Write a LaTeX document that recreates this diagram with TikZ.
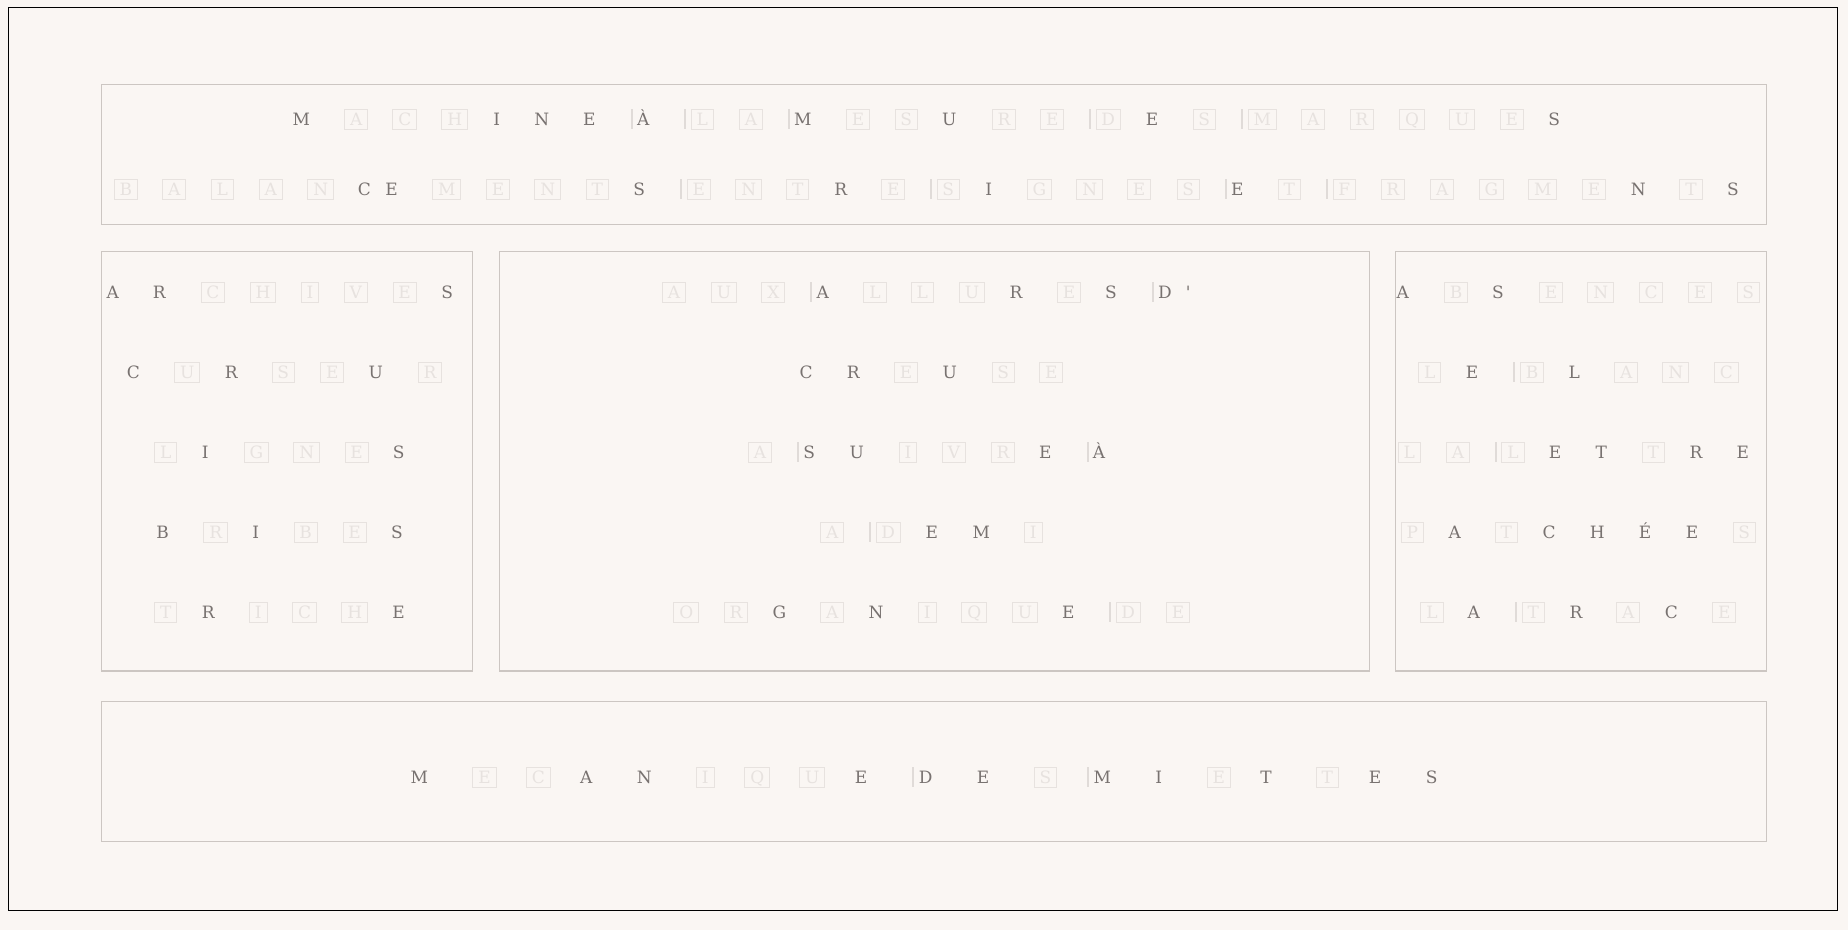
\documentclass[tikz,border=0pt]{standalone}
\usepackage{fontspec}
\setmainfont{DejaVu Serif}

\definecolor{paper}{RGB}{250,246,243}
\definecolor{rim}{RGB}{204,198,194}
\definecolor{ink}{RGB}{120,114,112}
\definecolor{ghost}{RGB}{231,226,223}
\definecolor{notch}{RGB}{224,219,216}

% one row of letters: name, y, list of x/letter/style
\newcommand\letterrow[3]{%
  \foreach \x/\l/\k [count=\i] in {#3}
    \node [\k] (#1-\i) at (\x, #2) {\l};}

\begin{document}
\begin{tikzpicture}[x=0.5pt, y=-0.5pt,
    glyph/.style={font=\fontsize{8.5}{10}\selectfont, text height=6.2pt, text depth=0pt,
      minimum height=10pt, inner xsep=2.7pt, inner ysep=0pt},
    seen/.style={glyph, text=ink},
    veil/.style={glyph, draw=ghost, line width=0.5pt, text=ghost},
    wbar/.style={fill=notch, minimum width=1pt, minimum height=10pt, inner sep=0pt},
    panel/.style={draw=rim, line width=0.6pt}]
        \fill[paper] (0, 0) rectangle (1848, 930);
        \draw[black, line width=0.5pt] (8, 8) rectangle (1837.5, 910);

        \draw[panel] (101.7, 84.3) rectangle (1766.7, 224.3);
        \draw[panel] (101.7, 251.7) rectangle (472.3, 671);
        \draw[panel] (499.7, 251.7) rectangle (1369.3, 671);
        \draw[panel] (1395.3, 251.7) rectangle (1766.7, 671);
        \draw[panel] (101.7, 701.3) rectangle (1766.7, 841.5);

        % top panel
        \letterrow{machine}{119.3}{301.3/M/seen, 356.3/A/veil, 404.8/C/veil, 454.8/H/veil,
          496.7/I/seen, 541.7/N/seen, 589.3/E/seen, 632/{}/wbar, 643.3/À/seen,
          685/{}/wbar, 702.3/L/veil, 751/A/veil, 788.7/{}/wbar, 802.7/M/seen,
          858/E/veil, 906.3/S/veil, 949.3/U/seen, 1004/R/veil, 1052.3/E/veil,
          1090/{}/wbar, 1108.3/D/veil, 1152/E/seen, 1204.3/S/veil, 1241.7/{}/wbar,
          1262.3/M/veil, 1313.3/A/veil, 1361.8/R/veil, 1412/Q/veil, 1462.3/U/veil,
          1511.8/E/veil, 1554.3/S/seen}
        \letterrow{balance}{189.5}{125.8/B/veil, 174.3/A/veil, 222.3/L/veil, 270.8/A/veil,
          320.8/N/veil, 364.3/C/seen, 391.7/E/seen, 446.7/M/veil, 498/E/veil,
          547.8/N/veil, 597.3/T/veil, 639.3/S/seen, 680.7/{}/wbar, 698.8/E/veil,
          748.8/N/veil, 797.8/T/veil, 840.7/R/seen, 893.3/E/veil, 931/{}/wbar,
          948.3/S/veil, 988.7/I/seen, 1039.5/G/veil, 1089.8/N/veil, 1139/E/veil,
          1188.3/S/veil, 1226/{}/wbar, 1237.3/E/seen, 1289.3/T/veil, 1327/{}/wbar,
          1344.3/F/veil, 1392.8/R/veil, 1442.3/A/veil, 1491.3/G/veil, 1542.8/M/veil,
          1594/E/veil, 1638.3/N/seen, 1691/T/veil, 1733/S/seen}

        % left panel
        \letterrow{archives}{292.3}{112.7/A/seen, 159.3/R/seen, 213/C/veil, 263/H/veil,
          310/I/veil, 355.7/V/veil, 404.7/E/veil, 447.3/S/seen}
        \letterrow{curseur}{372.3}{133.3/C/seen, 187.3/U/veil, 231.3/R/seen, 283.3/S/veil,
          332.3/E/veil, 375.7/U/seen, 430/R/veil}
        \letterrow{lignes}{452.3}{165.7/L/veil, 205.3/I/seen, 256.3/G/veil, 306.7/N/veil,
          356.7/E/veil, 398.7/S/seen}
        \letterrow{bribes}{532.3}{162.7/B/seen, 215.7/R/veil, 255.7/I/seen, 305.7/B/veil,
          354.7/E/veil, 397/S/seen}
        \letterrow{triche}{612.3}{165.7/T/veil, 208.3/R/seen, 258.3/I/veil, 304.7/C/veil,
          354.7/H/veil, 398.7/E/seen}

        % middle panel
        \letterrow{allures}{292.3}{674/A/veil, 724/U/veil, 773.3/X/veil, 811/{}/wbar,
          822.7/A/seen, 875/L/veil, 922.3/L/veil, 972/U/veil, 1016/R/seen, 1069/E/veil,
          1111/S/seen, 1152.7/{}/wbar, 1165/D/seen, 1188.3/\textquotesingle/seen}
        \letterrow{creuse}{372.3}{806/C/seen, 853.3/R/seen, 906/E/veil, 949.7/U/seen,
          1003.3/S/veil, 1051.3/E/veil}
        \letterrow{suivre}{452.3}{760/A/veil, 797.7/{}/wbar, 809.3/S/seen, 856.7/U/seen,
          908/I/veil, 954/V/veil, 1003/R/veil, 1045.3/E/seen, 1087.7/{}/wbar, 1099/À/seen}
        \letterrow{demi}{532.3}{832.3/A/veil, 870/{}/wbar, 888.3/D/veil, 931.7/E/seen,
          981.3/M/seen, 1033.3/I/veil}
        \letterrow{organique}{612.3}{686.3/O/veil, 736/R/veil, 779.3/G/seen, 832.3/A/veil,
          876/N/seen, 927.3/I/veil, 974.3/Q/veil, 1025/U/veil, 1068.3/E/seen,
          1110/{}/wbar, 1128.3/D/veil, 1178/E/veil}

        % right panel
        \letterrow{absences}{292.3}{1402.7/A/seen, 1456/B/veil, 1498/S/seen, 1551/E/veil,
          1600.7/N/veil, 1651/C/veil, 1700/E/veil, 1748.3/S/veil}
        \letterrow{blanc}{372.3}{1429.7/L/veil, 1472/E/seen, 1514/{}/wbar, 1532/B/veil,
          1574.3/L/seen, 1626.3/A/veil, 1675.7/N/veil, 1726.3/C/veil}
        \letterrow{lettre}{452.3}{1409.3/L/veil, 1458/A/veil, 1496/{}/wbar, 1513/L/veil,
          1555/E/seen, 1601.3/T/seen, 1653.3/T/veil, 1696/R/seen, 1742.7/E/seen}
        \letterrow{patchees}{532.3}{1412.3/P/veil, 1454.7/A/seen, 1506.3/T/veil, 1549/C/seen,
          1597.3/H/seen, 1645/É/seen, 1692/E/seen, 1744.3/S/veil}
        \letterrow{trace}{612.3}{1432/L/veil, 1473.7/A/seen, 1516/{}/wbar, 1533.3/T/veil,
          1576/R/seen, 1628.3/A/veil, 1671.3/C/seen, 1724.3/E/veil}

        % bottom panel
        \letterrow{miettes}{777.3}{419.3/M/seen, 484.5/E/veil, 538.3/C/veil, 586.3/A/seen,
          644.3/N/seen, 705.3/I/veil, 757.3/Q/veil, 812.3/U/veil, 861/E/seen,
          912.7/{}/wbar, 925.7/D/seen, 983/E/seen, 1045.5/S/veil, 1087.7/{}/wbar,
          1102.3/M/seen, 1158.7/I/seen, 1218.8/E/veil, 1266/T/seen, 1327.3/T/veil,
          1375/E/seen, 1431.7/S/seen}

        \path[use as bounding box] (0, 0) rectangle (1848, 930);
      \end{tikzpicture}
\end{document}
